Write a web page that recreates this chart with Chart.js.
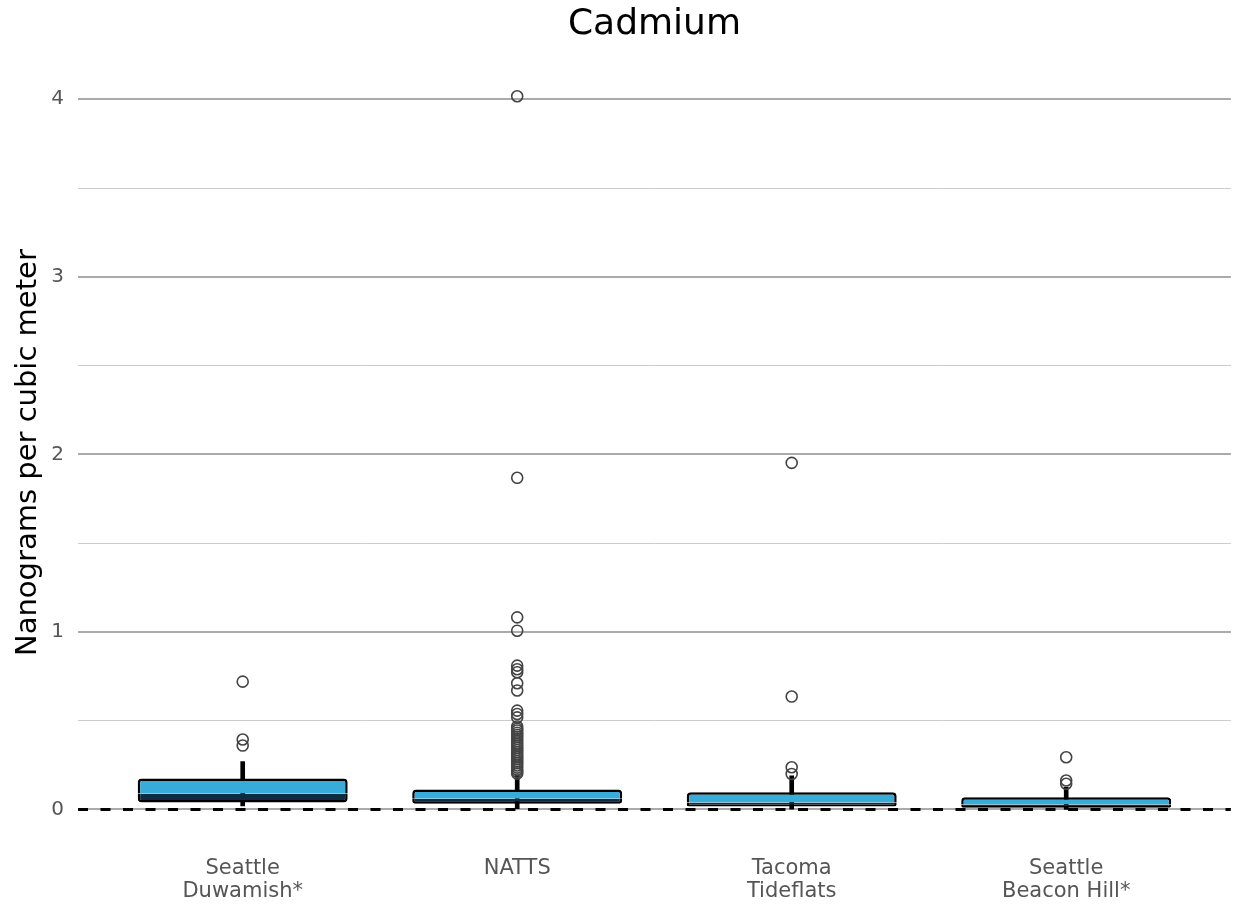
<!DOCTYPE html>
<html>
<head>
<meta charset="utf-8">
<script src="https://cdn.jsdelivr.net/npm/chart.js@4.4.0/dist/chart.umd.min.js"></script>
<style>
  html, body { margin: 0; background: #fff; overflow: hidden; }
  #wrap { width: 1238px; height: 911px; }
</style>
</head>
<body>
<div id="wrap"><canvas id="boxChart"></canvas></div>
<script>
// sites along the x axis (multi-line tick labels)
const sites = [['Seattle', 'Duwamish*'], ['NATTS'], ['Tacoma', 'Tideflats'], ['Seattle', 'Beacon Hill*']];

// box statistics, ng/m3
const q1 = [0.039, 0.032, 0.017, 0.010];
const medians = [0.090, 0.060, 0.040, 0.028];
const q3 = [0.174, 0.112, 0.097, 0.069];
const whiskerLow = [0.020, 0.004, 0.002, 0.001];
const whiskerHigh = [0.270, 0.195, 0.190, 0.125];

// outliers per site
const outliersDuwamish = [0.720, 0.394, 0.360];
const outliersNatts = [4.017, 1.868, 1.082, 1.007, 0.810, 0.790, 0.773, 0.711, 0.670, 0.557, 0.538, 0.519,
  0.467, 0.455, 0.445, 0.432, 0.420, 0.410, 0.398, 0.385, 0.372, 0.360, 0.348, 0.335, 0.322, 0.310,
  0.298, 0.285, 0.272, 0.260, 0.248, 0.236, 0.224, 0.212, 0.202];
const outliersTacoma = [1.952, 0.636, 0.238, 0.200];
const outliersBeaconHill = [0.294, 0.163, 0.145];
const outliers = [outliersDuwamish, outliersNatts, outliersTacoma, outliersBeaconHill];

const yTicksMajor = [0, 1, 2, 3, 4];
const xMin = 0.4, xMax = 4.6;

const positions = sites.map((s, i) => i + 1);

const whiskerData = positions.map((x, i) => ({ x: x, y: [whiskerLow[i], whiskerHigh[i]] }));
const lowerBoxData = positions.map((x, i) => ({ x: x, y: [q1[i], medians[i]] }));
const upperBoxData = positions.map((x, i) => ({ x: x, y: [medians[i], q3[i]] }));
const outlierData = [];
outliers.forEach((list, i) => list.forEach(v => outlierData.push({ x: positions[i], y: v })));

const fontFamily = 'DejaVu Sans';

const ctx = document.getElementById('boxChart').getContext('2d');
const boxChart = new Chart(ctx, {
    type: 'bar',
    data: {
        datasets: [
            {
                type: 'line',
                data: [{ x: xMin, y: 0 }, { x: xMax, y: 0 }],
                borderColor: '#000',
                borderWidth: 2.8,
                borderDash: [10, 12.5],
                pointRadius: 0,
                order: 0
            },
            {
                type: 'scatter',
                data: outlierData,
                pointStyle: 'circle',
                pointRadius: 5.5,
                borderColor: '#444',
                borderWidth: 1.6,
                backgroundColor: 'rgba(0,0,0,0)',
                order: 1
            },
            {
                data: upperBoxData,
                backgroundColor: '#37acd9',
                borderColor: '#000',
                borderWidth: 2.5,
                borderSkipped: 'bottom',
                borderRadius: { topLeft: 4, topRight: 4, bottomLeft: 0, bottomRight: 0 },
                grouped: false,
                categoryPercentage: 0.85,
                barPercentage: 0.9,
                order: 2
            },
            {
                data: lowerBoxData,
                backgroundColor: '#0f2b42',
                borderColor: '#000',
                borderWidth: 2.5,
                borderSkipped: 'top',
                borderRadius: { topLeft: 0, topRight: 0, bottomLeft: 4, bottomRight: 4 },
                grouped: false,
                categoryPercentage: 0.85,
                barPercentage: 0.9,
                order: 2
            },
            {
                data: whiskerData,
                backgroundColor: '#000',
                borderWidth: 0,
                barThickness: 4,
                grouped: false,
                order: 3
            }
        ]
    },
    options: {
        responsive: true,
        maintainAspectRatio: false,
        animation: false,
        layout: { padding: { left: 0, right: 3, top: 0, bottom: 0 } },
        plugins: {
            legend: { display: false },
            tooltip: { enabled: false },
            title: {
                display: true,
                text: 'Cadmium',
                fullSize: false,
                color: '#000',
                font: { family: fontFamily, size: 36, weight: 'normal' },
                padding: { top: 3, bottom: 14 }
            }
        },
        scales: {
            x: {
                type: 'linear',
                offset: false,
                min: xMin,
                max: xMax,
                afterBuildTicks: axis => { axis.ticks = positions.map(v => ({ value: v })); },
                afterFit: axis => {
                    axis.height = 66;
                    axis.paddingLeft = 0;
                    axis.paddingRight = 0;
                },
                ticks: {
                    callback: value => sites[value - 1],
                    color: '#555',
                    font: { family: fontFamily, size: 21, lineHeight: 1.1 },
                    padding: 4,
                    maxRotation: 0
                },
                grid: { display: false },
                border: { display: false }
            },
            y: {
                min: -0.2,
                max: 4.22,
                afterFit: axis => { axis.width = 78; },
                ticks: {
                    stepSize: 0.5,
                    includeBounds: false,
                    callback: value => yTicksMajor.includes(value) ? value : '',
                    color: '#555',
                    font: { family: fontFamily, size: 20 },
                    padding: 14
                },
                grid: {
                    drawTicks: false,
                    color: c => yTicksMajor.includes(c.tick.value) ? '#aaaaaa' : '#cccccc',
                    lineWidth: c => yTicksMajor.includes(c.tick.value) ? 2 : 1
                },
                border: { display: false },
                title: {
                    display: true,
                    text: 'Nanograms per cubic meter',
                    color: '#000',
                    font: { family: fontFamily, size: 29, weight: 'normal' },
                    padding: { top: 11, bottom: 0 }
                }
            }
        }
    }
});
</script>
</body>
</html>
